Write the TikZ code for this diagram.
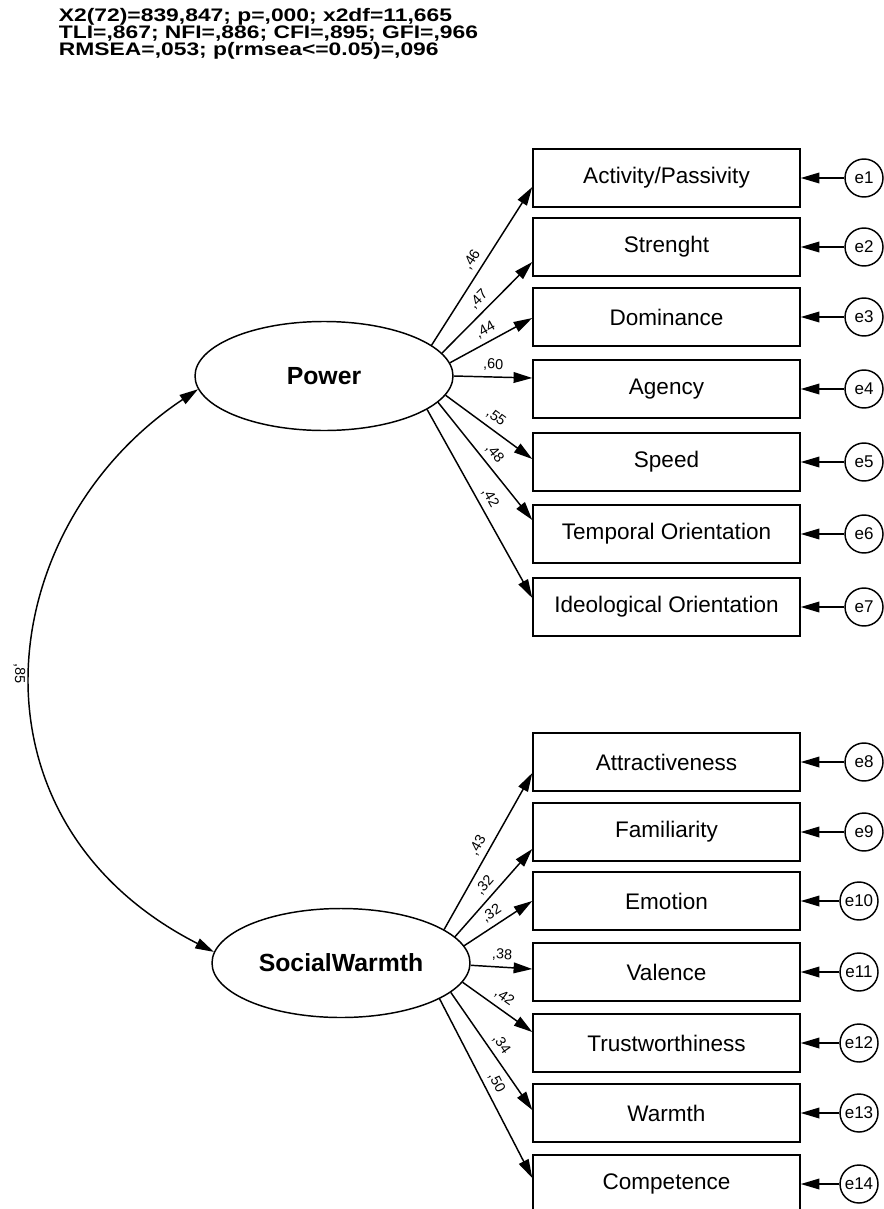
\documentclass[tikz,border=0pt]{standalone}
\usepackage{fontspec}
\setmainfont{Liberation Sans}
\usetikzlibrary{arrows.meta,shapes.geometric}
\tikzset{
  >={Triangle[length=14pt,width=8pt]},
  ind/.style={draw, line width=1.1pt, minimum width=200.25pt, minimum height=43.5pt, inner sep=0pt, font=\fontsize{16.9}{18}\selectfont},
  lat/.style={draw, ellipse, line width=1.1pt, minimum width=193.5pt, minimum height=81.75pt, inner sep=0pt, font=\fontsize{18.6}{20}\selectfont\bfseries},
  err/.style={draw, circle, line width=1.1pt, minimum size=28.5pt, inner sep=0.5pt, font=\fontsize{12.75}{14}\selectfont},
  coef/.style={font=\fontsize{10.8}{12}\selectfont, inner sep=1.5pt},
  hdr/.style={font=\fontsize{13.6}{15}\selectfont\bfseries, anchor=base west, xscale=1.26, inner sep=0pt},
}
\begin{document}
\begin{tikzpicture}[x=0.75pt, y=-0.75pt, line width=1.1pt]
\useasboundingbox (0,0) rectangle (883,1209);
\node[hdr] (fit1) at (58,21.7) {X2(72)=839,847; p=,000; x2df=11,665};
\node[hdr] (fit2) at (58,38.7) {TLI=,867; NFI=,886; CFI=,895; GFI=,966};
\node[hdr] (fit3) at (58,55.2) {RMSEA=,053; p(rmsea<=0.05)=,096};
\node[lat] (power) at (324,376) {Power};
\node[lat] (warmth) at (341,963) {SocialWarmth};
\foreach \i/\y/\txt in {1/178/{Activity/Passivity}, 2/247/Strenght, 3/317/Dominance, 4/389/Agency,
    5/462/Speed, 6/534/Temporal Orientation, 7/607/Ideological Orientation, 8/762/Attractiveness,
    9/832/Familiarity, 10/901/Emotion, 11/972/Valence, 12/1043/Trustworthiness, 13/1113/Warmth,
    14/1184/Competence} {
  \pgfmathsetmacro\ex{\i<10 ? 864 : 859}
  \node[ind] (b\i) at (666.5,\y) {\txt};
  \node[err] (e\i) at (\ex,\y) {e\i};
  \draw[->] (e\i) -- (b\i);
}
\foreach \l/\i/\a/\dy/\c in {power/1/16/9/{,46}, power/2/11/15/{,47}, power/3/6/1/{,44},
    power/4/0/-11/{,60}, power/5/-9/-3/{,55}, power/6/-13/-14/{,48}, power/7/-18/-9/{,42},
    warmth/8/18/11/{,43}, warmth/9/13/17/{,32}, warmth/10/8/0/{,32}, warmth/11/-1/-3/{,38},
    warmth/12/-9/-11/{,42}, warmth/13/-15/-3/{,34}, warmth/14/-20/-6/{,50}}
  \draw[->] (\l.\a) -- ([shift={(0,\dy)}]b\i.west) node[coef, midway, sloped, above=2.5pt] {\c};
\draw[<->] (power.186) .. controls (-10,528) and (-42,821.5) .. (warmth.175)
  node[coef, midway, sloped, allow upside down, below=3pt] {,85};
\end{tikzpicture}
\end{document}
